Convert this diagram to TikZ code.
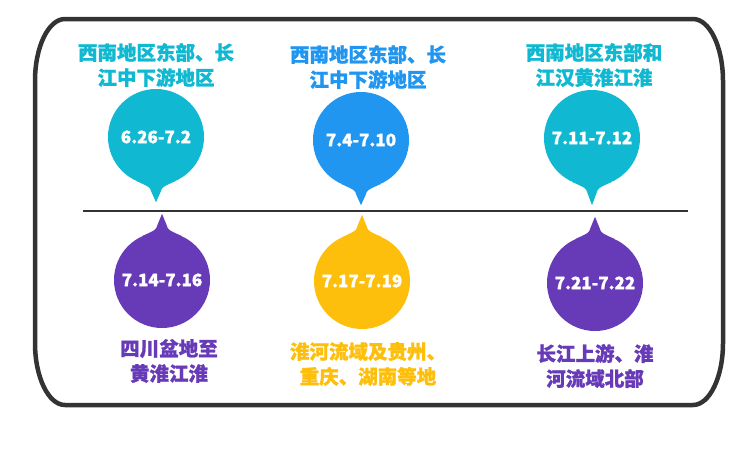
\documentclass[tikz,border=0pt]{standalone}
\usepackage{fontspec}
\usepackage{tikz}
\usetikzlibrary{positioning,calc}
\newfontfamily\cjk{Noto Sans CJK SC}[BoldFeatures={FakeBold=1.2}]
\definecolor{dropcyan}{HTML}{10B9D1}
\definecolor{dropblue}{HTML}{2196F0}
\definecolor{droppurple}{HTML}{673AB7}
\definecolor{dropyellow}{HTML}{FDBF0C}
\definecolor{framegray}{HTML}{333333}

\begin{document}
\begin{tikzpicture}[x=1pt,y=-1pt]
        \tikzstyle{drop}=[circle, minimum size=96pt, inner sep=0pt, text=white, font=\cjk\bfseries\fontsize{17}{20}\selectfont]
        \tikzstyle{region}=[align=center, font=\cjk\bfseries\fontsize{19.5}{25}\selectfont]

        \useasboundingbox (0,0) rectangle (752,451);

        % frame and middle line
        \draw[framegray, line width=4.5pt] (35,81) arc[start angle=180, end angle=270, x radius=30, y radius=62]
            -- (693,19) arc[start angle=270, end angle=360, x radius=30, y radius=62]
            -- (723,343) arc[start angle=0, end angle=90, x radius=30, y radius=62]
            -- (65,405) arc[start angle=90, end angle=180, x radius=30, y radius=62] -- cycle;
        \draw[framegray, line width=2pt] (83,211) -- (688,211);

        % top drops
        \node   (d1)   [drop, fill=dropcyan] at (156,137) {6.26-7.2};
        \node   (d2)   [drop, fill=dropblue] at (361,140) {7.4-7.10};
        \node   (d3)   [drop, fill=dropcyan] at (592,138) {7.11-7.12};
        \fill[dropcyan] (d1.-66) .. controls ($(d1.south)+(6,2)$) .. ($(d1.south)+(4.5,7)$) -- ($(d1.south)+(0,17)$) -- ($(d1.south)+(-4.5,7)$) .. controls ($(d1.south)+(-6,2)$) .. (d1.-114) -- cycle;
        \fill[dropblue] (d2.-66) .. controls ($(d2.south)+(6,2)$) .. ($(d2.south)+(4.5,7)$) -- ($(d2.south)+(0,17)$) -- ($(d2.south)+(-4.5,7)$) .. controls ($(d2.south)+(-6,2)$) .. (d2.-114) -- cycle;
        \fill[dropcyan] (d3.-66) .. controls ($(d3.south)+(6,2)$) .. ($(d3.south)+(4.5,7)$) -- ($(d3.south)+(0,19)$) -- ($(d3.south)+(-4.5,7)$) .. controls ($(d3.south)+(-6,2)$) .. (d3.-114) -- cycle;

        % bottom drops
        \node   (e1)   [drop, fill=droppurple] at (162,280) {7.14-7.16};
        \node   (e2)   [drop, fill=dropyellow] at (362,281) {7.17-7.19};
        \node   (e3)   [drop, fill=droppurple] at (595,283) {7.21-7.22};
        \fill[droppurple] (e1.66) .. controls ($(e1.north)+(6,-2)$) .. ($(e1.north)+(4.5,-7)$) -- ($(e1.north)+(0,-18)$) -- ($(e1.north)+(-4.5,-7)$) .. controls ($(e1.north)+(-6,-2)$) .. (e1.114) -- cycle;
        \fill[dropyellow] (e2.66) .. controls ($(e2.north)+(6,-2)$) .. ($(e2.north)+(4.5,-7)$) -- ($(e2.north)+(0,-18)$) -- ($(e2.north)+(-4.5,-7)$) .. controls ($(e2.north)+(-6,-2)$) .. (e2.114) -- cycle;
        \fill[droppurple] (e3.66) .. controls ($(e3.north)+(6,-2)$) .. ($(e3.north)+(4.5,-7)$) -- ($(e3.north)+(0,-18)$) -- ($(e3.north)+(-4.5,-7)$) .. controls ($(e3.north)+(-6,-2)$) .. (e3.114) -- cycle;

        % region texts
        \node   (t1)   [region, text=dropcyan] at (156,65) {西南地区东部、长\\江中下游地区};
        \node   (t2)   [region, text=dropblue] at (368,67) {西南地区东部、长\\江中下游地区};
        \node   (t3)   [region, text=dropcyan] at (594,65) {西南地区东部和\\江汉黄淮江淮};
        \node   (b1)   [region, text=droppurple] at (169,361) {四川盆地至\\黄淮江淮};
        \node   (b2)   [region, text=dropyellow] at (368,364) {淮河流域及贵州、\\重庆、湖南等地};
        \node   (b3)   [region, text=droppurple] at (595,366) {长江上游、淮\\河流域北部};

\end{tikzpicture}
\end{document}
